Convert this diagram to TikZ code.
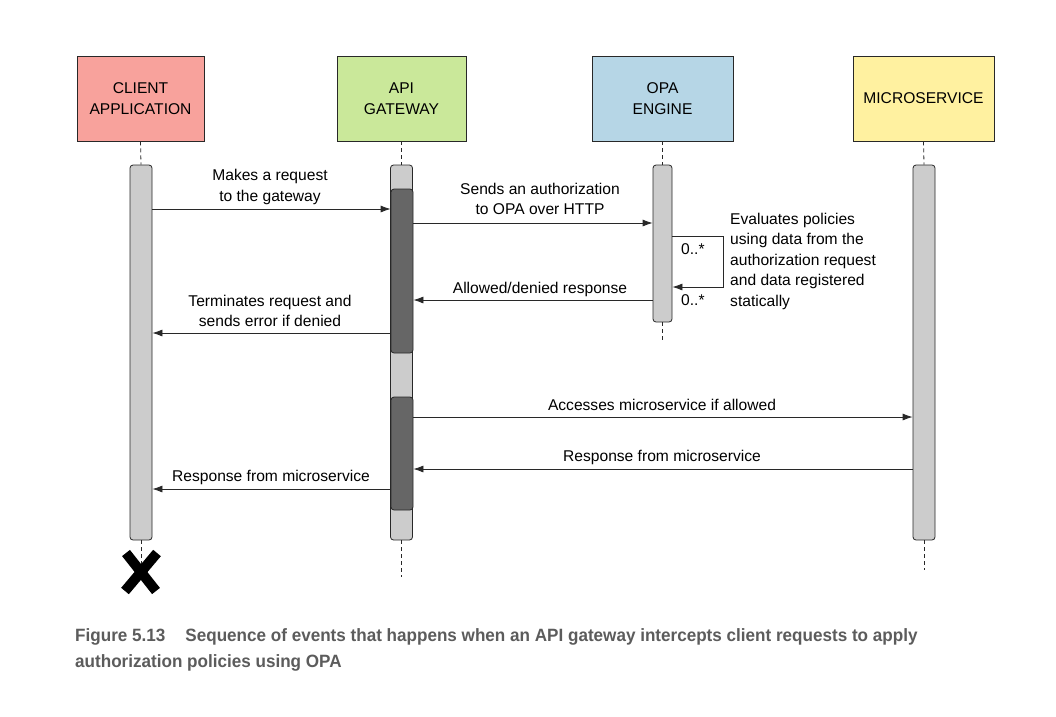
\documentclass[tikz,border=0pt]{standalone}
\usepackage{fontspec}
\setmainfont{Liberation Sans}
\newfontfamily\capfont[FakeStretch=0.96]{Liberation Sans}
\usetikzlibrary{arrows.meta,calc}
\definecolor{clientc}{RGB}{248,162,156}
\definecolor{apic}{RGB}{202,232,154}
\definecolor{opac}{RGB}{182,214,230}
\definecolor{microc}{RGB}{255,241,160}
\definecolor{barlight}{RGB}{204,204,204}
\definecolor{bardark}{RGB}{102,102,102}
\definecolor{edgec}{RGB}{40,40,40}
\definecolor{capc}{RGB}{92,92,92}
\begin{document}
\begin{tikzpicture}[x=1pt,y=-1pt,
  font=\fontsize{15.6}{20.5}\selectfont,
  hdr/.style={draw=edgec, line width=0.9pt, align=center, minimum height=85pt, inner sep=0pt},
  bar/.style={draw=edgec, line width=0.8pt, fill=barlight, rounded corners=3pt, minimum width=22pt, inner sep=0pt},
  dbar/.style={bar, fill=bardark},
  life/.style={draw=edgec, line width=0.8pt, dash pattern=on 4pt off 3pt},
  msg/.style={draw=edgec, line width=0.8pt, -{Latex[length=10pt,width=7pt]}},
  lbl/.style={align=center, inner sep=0pt},
  captxt/.style={anchor=base west, inner sep=0pt, text=capc, font=\capfont\bfseries\fontsize{17.8}{20}\selectfont}
]
\useasboundingbox (0,0) rectangle (1056,716);
\fill[white] (0,0) rectangle (1056,716);

% headers
\node[hdr, fill=clientc, minimum width=127pt] (ch) at (140.5,98.5) {CLIENT\\APPLICATION};
\node[hdr, fill=apic, minimum width=129pt] (ah) at (401.5,98.5) {API\\GATEWAY};
\node[hdr, fill=opac, minimum width=141pt] (oh) at (662.5,98.5) {OPA\\ENGINE};
\node[hdr, fill=microc, minimum width=141pt] (mh) at (923.5,98.5) {MICROSERVICE};

% end coordinates
\coordinate (cx) at (141,572);
\coordinate (ae) at (401.5,577);
\coordinate (oe) at (662.5,342);
\coordinate (me) at (924,570);

% bars
\node[bar, minimum height=375pt] (cb) at (141,352.5) {};
\node[bar, minimum height=375pt] (ab) at (401.5,352.5) {};
\node[bar, minimum width=19pt, minimum height=157pt] (ob) at (662.5,243.5) {};
\node[bar, minimum height=375pt] (mb) at (924,352.5) {};
\node[dbar, minimum height=164pt] (ad1) at (402,271) {};
\node[dbar, minimum height=113pt] (ad2) at (402,453.5) {};

% lifelines
\draw[life] (ch.south) -- (cb.north);
\draw[life] (ah.south) -- (ab.north);
\draw[life] (oh.south) -- (ob.north);
\draw[life] (mh.south) -- (mb.north);
\draw[life] (cb.south) -- (cx);
\draw[life] (ab.south) -- (ae);
\draw[life] (ob.south) -- (oe);
\draw[life] (mb.south) -- (me);

% destroy mark
\draw[line width=10pt, black] ($(cx)+(-15,-19)$) -- ($(cx)+(15,19)$);
\draw[line width=10pt, black] ($(cx)+(16,-19)$) -- ($(cx)+(-16,19)$);

% message rows
\coordinate (y1) at (0,209);
\coordinate (y2) at (0,223);
\coordinate (y3a) at (0,236);
\coordinate (y3b) at (0,287);
\coordinate (y4) at (0,300);
\coordinate (y5) at (0,333);
\coordinate (y6) at (0,417);
\coordinate (y7) at (0,469);
\coordinate (y8) at (0,489);
\coordinate (lx) at (723,0);

\draw[msg] (cb.east |- y1) -- (ad1.west |- y1);
\draw[msg] (ad1.east |- y2) -- (ob.west |- y2);
\draw[msg] (ob.east |- y3a) -- (lx |- y3a) -- (lx |- y3b) -- (ob.east |- y3b);
\draw[msg] (ob.west |- y4) -- (ad1.east |- y4);
\draw[msg] (ad1.west |- y5) -- (cb.east |- y5);
\draw[msg] (ad2.east |- y6) -- (mb.west |- y6);
\draw[msg] (mb.west |- y7) -- (ad2.east |- y7);
\draw[msg] (ad2.west |- y8) -- (cb.east |- y8);

% labels
\node[lbl] (l1) at (270,187) {Makes a request\\to the gateway};
\node[lbl] (l2) at (540,199) {Sends an authorization\\to OPA over HTTP};
\node[lbl, anchor=west] (l3a) at (681,249) {0..*};
\node[lbl, anchor=west] (l3b) at (681,300) {0..*};
\node[lbl, anchor=west, align=left] (l3) at (730,261) {Evaluates policies\\using data from the\\authorization request\\and data registered\\statically};
\node[lbl] (l4) at (540,289) {Allowed/denied response};
\node[lbl] (l5) at (270,311) {Terminates request and\\sends error if denied};
\node[lbl] (l6) at (662,405) {Accesses microservice if allowed};
\node[lbl] (l7) at (662,457) {Response from microservice};
\node[lbl] (l8) at (271,477) {Response from microservice};

% caption
\node[captxt] (cap1) at (75,641) {Figure 5.13\hspace{20pt}Sequence of events that happens when an API gateway intercepts client requests to apply};
\node[captxt] (cap2) at (75,667) {authorization policies using OPA};
\end{tikzpicture}
\end{document}
